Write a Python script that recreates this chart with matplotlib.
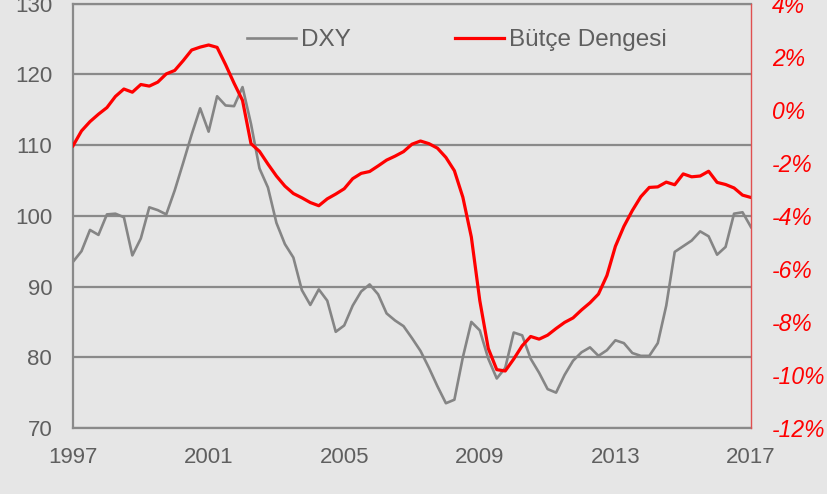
import numpy as np
import matplotlib
matplotlib.use('Agg')
import matplotlib.pyplot as plt
from matplotlib.lines import Line2D
from matplotlib.ticker import FuncFormatter

plt.rcParams['font.family'] = ['Liberation Sans', 'DejaVu Sans']

# quarterly observations, 1997Q1 .. 2017Q1
years = 1997 + np.arange(81) / 4

dxy = [93.5, 95.0, 98.0, 97.3, 100.2, 100.3, 99.8, 94.4, 96.8, 101.2,
       100.8, 100.2, 103.6, 107.5, 111.5, 115.2, 111.9, 116.9, 115.6, 115.5,
       118.2, 113.0, 106.7, 104.0, 99.0, 96.0, 94.1, 89.5, 87.4, 89.6,
       88.0, 83.6, 84.5, 87.3, 89.3, 90.3, 88.9, 86.2, 85.2, 84.4,
       82.7, 80.9, 78.5, 75.9, 73.5, 74.0, 80.0, 85.0, 83.8, 79.8,
       77.0, 78.5, 83.5, 83.1, 79.8, 77.8, 75.5, 75.0, 77.5, 79.5,
       80.7, 81.4, 80.2, 81.0, 82.4, 82.0, 80.6, 80.2, 80.2, 82.0,
       87.3, 94.9, 95.7, 96.5, 97.8, 97.1, 94.5, 95.6, 100.3, 100.5,
       98.4]

butce = [-1.36, -0.80, -0.45, -0.17, 0.08, 0.50, 0.78, 0.66, 0.95, 0.89,
         1.04, 1.35, 1.48, 1.85, 2.25, 2.36, 2.44, 2.35, 1.70, 1.00,
         0.35, -1.28, -1.57, -2.05, -2.50, -2.88, -3.16, -3.32, -3.50, -3.62,
         -3.36, -3.18, -2.98, -2.60, -2.40, -2.33, -2.12, -1.90, -1.75, -1.58,
         -1.30, -1.18, -1.28, -1.45, -1.80, -2.30, -3.30, -4.80, -7.20, -9.00,
         -9.80, -9.85, -9.40, -8.90, -8.55, -8.65, -8.50, -8.25, -8.02, -7.85,
         -7.55, -7.28, -6.95, -6.25, -5.15, -4.40, -3.80, -3.28, -2.93, -2.91,
         -2.73, -2.83, -2.42, -2.53, -2.50, -2.32, -2.74, -2.82, -2.95, -3.22,
         -3.31]

xticks = [1997, 2001, 2005, 2009, 2013, 2017]

bg = '#e6e6e6'
gray = '#858585'
txt = '#5f5f5f'
red = '#ff0000'

fig = plt.figure(figsize=(8.28, 4.94), dpi=100, facecolor=bg)
ax = fig.add_axes([0.0882, 0.1336, 0.8188, 0.8591])
ax.set_facecolor(bg)
ax.plot(years, dxy, color=gray, lw=1.9)
ax.set_xlim(1997, 2017)
ax.set_ylim(70, 130)
ax.set_yticks(range(70, 131, 10))
ax.set_xticks(xticks)
ax.grid(axis='y', color='#8a8a8a', lw=1.6)
ax.set_axisbelow(True)
ax.tick_params(length=0, labelsize=16, colors=txt)
ax.tick_params(axis='y', pad=15)
ax.tick_params(axis='x', pad=14)
for s in ['left', 'bottom', 'top']:
    ax.spines[s].set_color('#8a8a8a')
    ax.spines[s].set_linewidth(1.6)
ax.spines['right'].set_visible(False)

ax2 = ax.twinx()
ax2.plot(years, butce, color=red, lw=2.3)
ax2.set_ylim(-12, 4)
ax2.set_yticks(range(-12, 5, 2))
ax2.yaxis.set_major_formatter(FuncFormatter(lambda v, p: f'{int(v)}%'))
ax2.tick_params(length=0, labelsize=16.5, colors=red, pad=15)
for lab in ax2.get_yticklabels():
    lab.set_fontstyle('italic')
for s in ['left', 'bottom', 'top']:
    ax2.spines[s].set_visible(False)
ax2.spines['right'].set_color('#e05050')
ax2.spines['right'].set_linewidth(1.0)

handles = [Line2D([], [], color=gray, lw=1.9), Line2D([], [], color=red, lw=2.3)]
leg = ax2.legend(handles, ['DXY', 'Bütçe Dengesi'], loc='center',
                 bbox_to_anchor=(0.566, 0.914), ncol=2, frameon=False,
                 fontsize=17.5, handlelength=2.0, handletextpad=0.2,
                 columnspacing=4.3)
for t in leg.get_texts():
    t.set_color(txt)

fig.savefig('out.png', dpi=100, facecolor=bg)
